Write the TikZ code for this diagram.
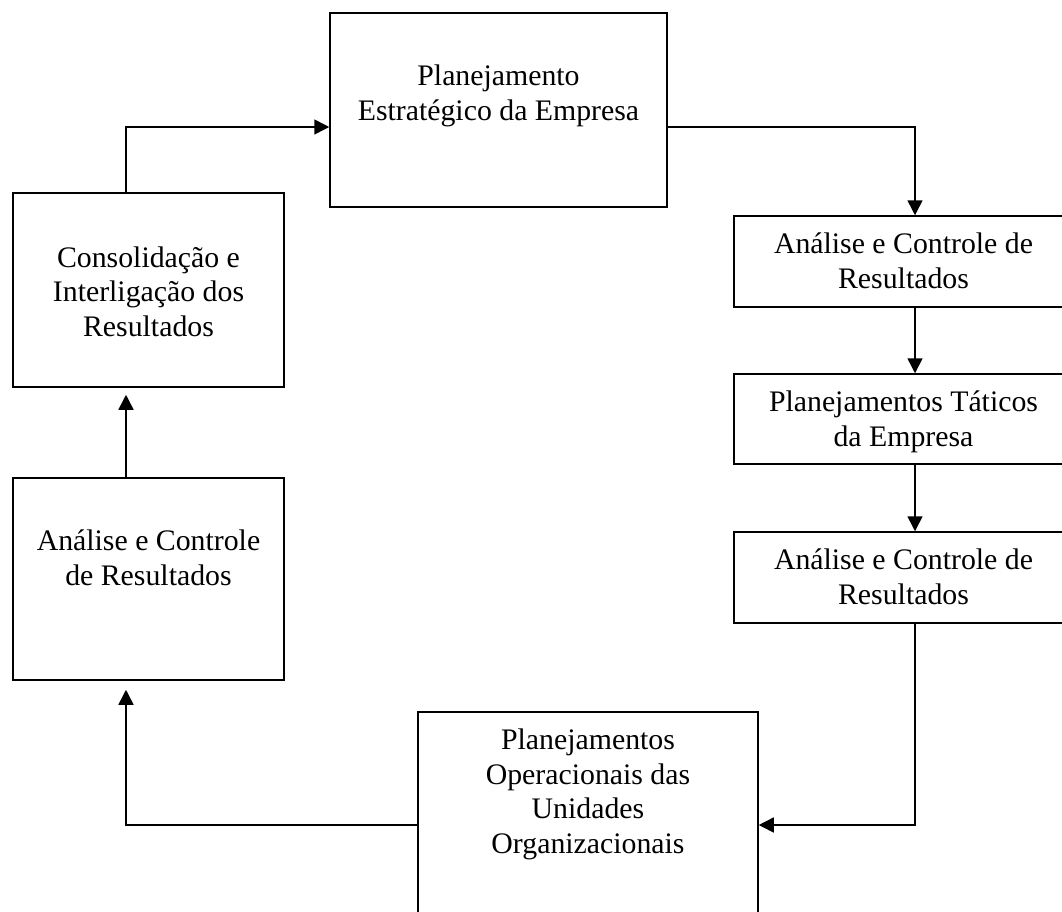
\documentclass[tikz,border=0pt]{standalone}
\usepackage{fontspec}
\setmainfont{Liberation Serif}
\usetikzlibrary{arrows.meta}

\begin{document}
\begin{tikzpicture}[x=1pt, y=-1pt,
  box/.style={draw=black, line width=1.5pt, inner sep=0pt, fill=none},
  txt/.style={align=center, inner sep=0pt, anchor=base,
              font={\fontsize{29.8}{34.5}\selectfont}},
  arr/.style={draw=black, line width=1.5pt, -{Triangle[length=15pt,width=15pt]}}]

  \useasboundingbox (0,0) rectangle (1062,911);
  \clip (0,0) rectangle (1062,911);

  % connector columns
  \coordinate (xl) at (126,0);
  \coordinate (xr) at (915,0);

  % boxes
  \node[box, minimum width=337pt, minimum height=194pt] (b1) at (498.5,110) {};
  \node[box, minimum width=339pt, minimum height=91pt]  (b2) at (903.5,261.5) {};
  \node[box, minimum width=339pt, minimum height=90pt]  (b3) at (903.5,419) {};
  \node[box, minimum width=339pt, minimum height=91pt]  (b4) at (903.5,577.5) {};
  \node[box, minimum width=340pt, minimum height=226pt] (b5) at (588,825) {};
  \node[box, minimum width=271pt, minimum height=202pt] (b6) at (148.5,579) {};
  \node[box, minimum width=271pt, minimum height=194pt] (b7) at (148.5,290) {};

  % labels (placed by the baseline of their last line)
  \node[txt] (t1) at (498.5,120) {Planejamento\\Estratégico da Empresa};
  \node[txt] (t2) at (903.5,288) {Análise e Controle de\\Resultados};
  \node[txt] (t3) at (903.5,446) {Planejamentos Táticos\\da Empresa};
  \node[txt] (t4) at (903.5,604) {Análise e Controle de\\Resultados};
  \node[txt] (t5) at (588,853)   {Planejamentos\\Operacionais das\\Unidades\\Organizacionais};
  \node[txt] (t6) at (148.5,585) {Análise e Controle\\de Resultados};
  \node[txt] (t7) at (148.5,336) {Consolidação e\\Interligação dos\\Resultados};

  % connectors
  \draw[arr] (b7.north -| xl) |- ([yshift=-17pt]b1.west);
  \draw[arr] ([yshift=-17pt]b1.east) -| (b2.north -| xr);
  \draw[arr] (b2.south -| xr) -- (b3.north -| xr);
  \draw[arr] (b3.south -| xr) -- (b4.north -| xr);
  \draw[arr] (b4.south -| xr) |- (b5.east);
  \draw[arr] (b5.west) -| ([yshift=-9pt]b6.south -| xl);
  \draw[arr] (b6.north -| xl) -- ([yshift=-7pt]b7.south -| xl);
\end{tikzpicture}
\end{document}
